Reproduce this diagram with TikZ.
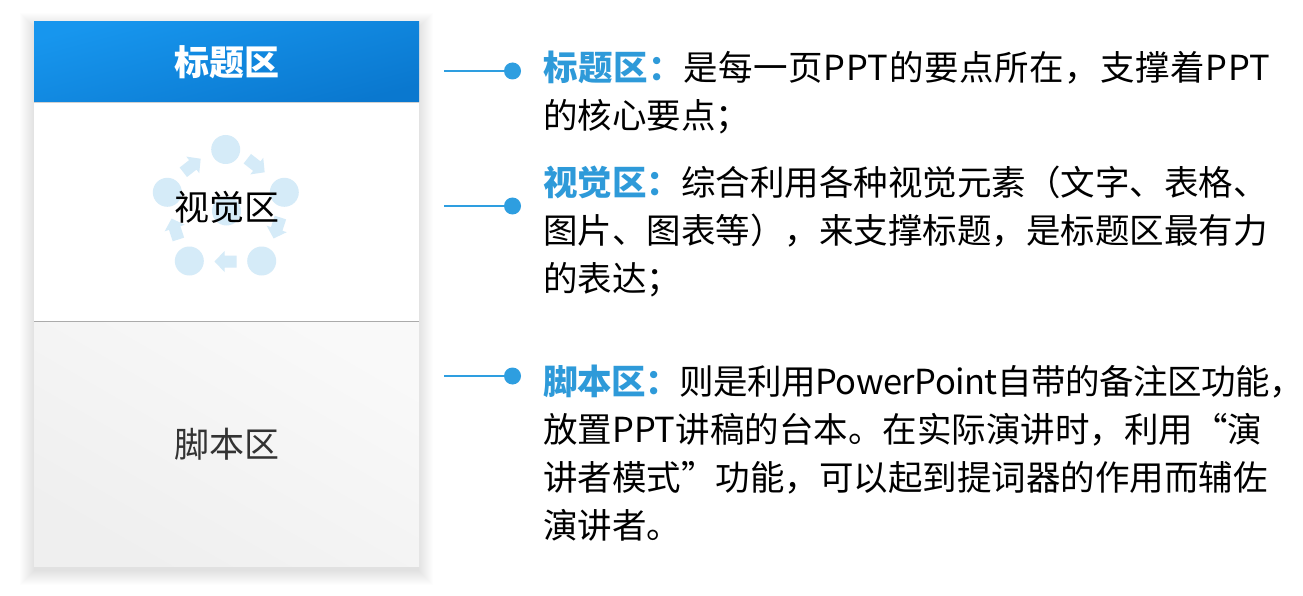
\documentclass[tikz,border=0pt]{standalone}
\usepackage{fontspec}
\newfontfamily\cjk{Noto Sans CJK SC}
\definecolor{hl}{HTML}{2E9AD9}
\definecolor{dotc}{HTML}{2E9EE0}
\definecolor{iconc}{HTML}{D5EBF8}
\definecolor{hdA}{HTML}{1796EE}
\definecolor{hdB}{HTML}{0A78CF}
\definecolor{ftA}{HTML}{F9F9F9}
\definecolor{ftB}{HTML}{EFEFEF}
\definecolor{sep}{HTML}{ABABAB}
\tikzset{
  bodytext/.style={anchor=base west, inner sep=0pt, font=\cjk\fontsize{34.5}{40}\selectfont, text=black},
  spaced/.style={font=\cjk\fontsize{34.5}{40}\selectfont\addfontfeature{LetterSpace=#1}},
  paneltext/.style={inner sep=0pt, font=\cjk\fontsize{35}{40}\selectfont},
  conn/.style={draw=dotc, line width=2pt},
  dotnode/.style={circle, fill=dotc, minimum size=17pt, inner sep=0pt},
  iconcirc/.style={circle, fill=iconc, minimum size=29pt, inner sep=0pt},
  pics/blockarrow/.style={code={
    \fill[iconc] (-11,-6) -- (1,-6) -- (1,-10.5) -- (11,0) -- (1,10.5) -- (1,6) -- (-11,6) -- cycle;}}
}
\newcommand{\hd}[1]{\textcolor{hl}{\bfseries #1}}
\begin{document}
\begin{tikzpicture}[x=1pt,y=-1pt]
\useasboundingbox[fill=white] (0,0) rectangle (1303,596);
% soft shadow
\foreach \i in {0,...,14}{
  \fill[black, opacity=0.007] (34-\i,22-\i+5) rectangle (419+\i,566+\i+5);
}
% panel
\fill[ftA] (34,22) rectangle (419,566);
\shade[top color=hdA, bottom color=hdB, shading angle=15] (34,22) rectangle (419,102);
\fill[white] (34,102) rectangle (419,321);
\shade[top color=ftA, bottom color=ftB, shading angle=-30] (34,322) rectangle (419,566);
\draw[black!18, line width=1pt] (34,102.5) -- (419,102.5);
\draw[sep, line width=1.6pt] (34,321.5) -- (419,321.5);
% icon
\node[iconcirc] (c0) at (225.7,149.5) {};
\node[iconcirc] (c1) at (284.3,192.3) {};
\node[iconcirc] (c2) at (261.7,261) {};
\node[iconcirc] (c3) at (189.3,261) {};
\node[iconcirc] (c4) at (167.3,192.3) {};
\node[iconcirc] (c5) at (226.5,211) {};
\pic[rotate=-38] at (256,165.5) {blockarrow};
\pic[rotate=-108] at (277,228) {blockarrow};
\pic[rotate=180] at (225.5,261.5) {blockarrow};
\pic[rotate=108] at (175,229) {blockarrow};
\pic[rotate=38] at (192,165.5) {blockarrow};
% panel labels
\node[paneltext, text=white] (h) at (226.5,62) {\bfseries 标题区};
\node[paneltext, text=black] (v) at (226.5,207) {视觉区};
\node[paneltext, text=black!80] (s) at (226.5,444) {脚本区};
% connectors
\coordinate (a1) at (444,71);
\coordinate (a2) at (444,206);
\coordinate (a3) at (444,376);
\node[dotnode] (d1) at (512.5,71) {};
\node[dotnode] (d2) at (512.5,206) {};
\node[dotnode] (d3) at (512.5,376) {};
\draw[conn] (a1) -- (d1.center);
\draw[conn] (a2) -- (d2.center);
\draw[conn] (a3) -- (d3.center);
% descriptions
\node[bodytext, spaced=1.9] (t11) at (543,81) {\hd{标题区：}是每一页PPT的要点所在，支撑着PPT};
\node[bodytext] (t12) at (543,129) {的核心要点；};
\node[bodytext] (t21) at (543,196) {\hd{视觉区：}综合利用各种视觉元素（文字、表格、};
\node[bodytext] (t22) at (543,243.5) {图片、图表等），来支撑标题，是标题区最有力};
\node[bodytext] (t23) at (543,291) {的表达；};
\node[bodytext, spaced=-1.5] (t31) at (543,394) {\hd{脚本区：}则是利用PowerPoint自带的备注区功能，};
\node[bodytext] (t32) at (543,442) {放置PPT讲稿的台本。在实际演讲时，利用“演};
\node[bodytext] (t33) at (543,490) {讲者模式”功能，可以起到提词器的作用而辅佐};
\node[bodytext] (t34) at (543,538) {演讲者。};
\end{tikzpicture}
\end{document}
